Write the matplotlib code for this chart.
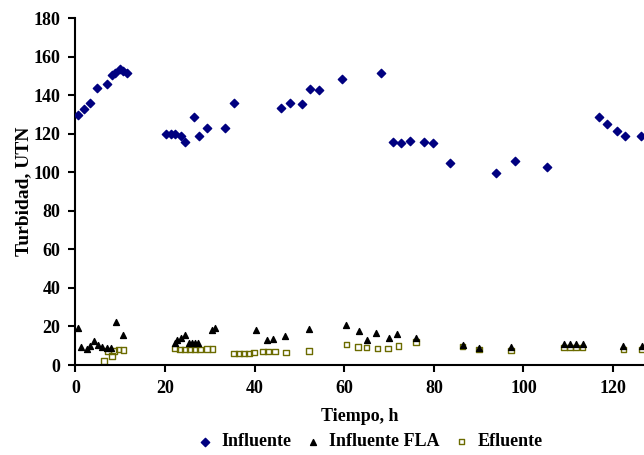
import matplotlib
matplotlib.use("Agg")
import matplotlib.pyplot as plt

# Influente
inf_t = [0.6, 1.9, 3.3, 4.9, 7.0, 8.1, 8.8, 10.0, 10.6, 11.5,
         20.2, 21.25, 22.3, 23.5, 24.4, 26.5, 27.6, 29.4, 33.4, 35.4,
         45.9, 47.9, 50.5, 52.3, 54.4, 59.6, 68.1,
         70.9, 72.6, 74.7, 77.7, 79.7, 83.7, 93.8, 98.0, 105.2,
         116.8, 118.7, 120.8, 122.7, 126.3]
inf_v = [129.7, 132.8, 136.1, 143.7, 146.0, 150.5, 151.4, 153.4, 152.6, 151.5,
         119.7, 119.7, 119.7, 118.8, 115.6, 128.7, 118.7, 122.9, 122.9, 136.1,
         133.3, 136.1, 135.6, 143.4, 142.9, 148.6, 151.5,
         115.6, 115.2, 116.2, 115.7, 115.2, 104.7, 99.8, 105.9, 102.6,
         128.7, 125.1, 121.4, 118.7, 118.7]

# Influente FLA
fla_t = [0.5, 1.2, 2.5, 3.2, 4.2, 5.1, 6.0, 7.0, 7.9, 9.0, 10.5,
         22.2, 22.6, 23.5, 24.4, 25.3, 26.0, 26.7, 27.4, 30.4, 31.1,
         40.2, 42.7, 44.2, 46.8, 52.1, 60.4, 63.3, 65.0, 67.1, 70.0, 71.8, 76.0,
         86.4, 90.1, 97.2, 109.0, 110.4, 111.7, 113.2, 122.3, 126.4]
fla_v = [19.4, 9.2, 8.3, 9.9, 12.5, 10.4, 9.2, 8.7, 8.7, 22.1, 15.6,
         11.2, 13.0, 13.8, 15.6, 11.2, 11.2, 11.2, 11.2, 18.2, 19.0,
         18.2, 13.0, 13.5, 15.2, 18.5, 20.7, 17.6, 13.0, 16.4, 14.2, 15.9, 14.2,
         10.4, 9.0, 9.5, 11.0, 11.0, 11.0, 11.0, 10.0, 10.0]

# Efluente
efl_t = [6.4, 7.3, 8.1, 8.6, 9.6, 10.7,
         22.2, 23.3, 24.4, 25.6, 26.7, 27.8, 29.3, 30.6,
         35.4, 36.5, 37.6, 38.7, 39.8, 41.9, 43.0, 44.5, 47.0,
         52.1, 60.5, 63.1, 65.0, 67.4, 69.8, 72.1, 76.0,
         86.4, 90.1, 97.2, 109.0, 110.4, 111.7, 113.2, 122.3, 126.4]
efl_v = [2.0, 7.3, 4.7, 7.4, 8.1, 7.8,
         8.6, 8.1, 8.1, 8.1, 8.1, 8.1, 8.3, 8.3,
         6.0, 6.0, 6.0, 6.0, 6.5, 7.0, 7.0, 7.0, 6.5,
         7.3, 10.7, 9.2, 9.0, 8.6, 8.6, 9.9, 11.8,
         9.5, 8.0, 7.5, 9.0, 9.0, 9.0, 9.0, 8.0, 8.0]

xticks = [0, 20, 40, 60, 80, 100, 120]
yticks = [0, 20, 40, 60, 80, 100, 120, 140, 160, 180]

plt.rcParams['font.family'] = ['Liberation Serif', 'DejaVu Serif']
plt.rcParams['font.weight'] = 'bold'

fig = plt.figure(figsize=(6.44, 4.55), dpi=100)
ax = fig.add_axes([0.1172, 0.1978, 0.8828, 0.7626])

ax.scatter(inf_t, inf_v, marker='D', s=18, color='#000080', label='Influente', zorder=3)
ax.scatter(fla_t, fla_v, marker='^', s=18, color='black', label='Influente FLA', zorder=3)
ax.scatter(efl_t, efl_v, marker='s', s=16, facecolors='none', edgecolors='#6b6b00',
           linewidths=1.0, label='Efluente', zorder=2)

ax.set_xlim(0, 126.9)
ax.set_ylim(0, 180)
ax.set_xticks(xticks)
ax.set_yticks(yticks)
ax.spines['top'].set_visible(False)
ax.spines['right'].set_visible(False)
for s in ['left', 'bottom']:
    ax.spines[s].set_linewidth(1.5)
ax.tick_params(direction='out', length=5, width=1.5, labelsize=13, pad=6)
for lab in ax.get_xticklabels() + ax.get_yticklabels():
    lab.set_fontweight('bold')

ax.set_xlabel('Tiempo, h', fontsize=13, fontweight='bold', labelpad=8)
ax.set_ylabel('Turbidad, UTN', fontsize=14, fontweight='bold', labelpad=1)

fig.legend(loc='center', bbox_to_anchor=(0.575, 0.029), ncol=3, frameon=False,
           handlelength=0.8, handletextpad=0.5, columnspacing=0.8,
           prop={'weight': 'bold', 'size': 13})

fig.savefig('out.png', dpi=100)
